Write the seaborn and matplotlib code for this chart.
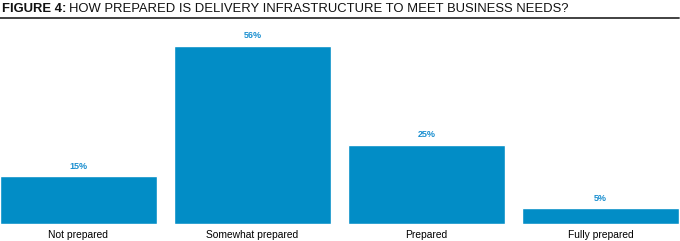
import matplotlib
matplotlib.use("Agg")
import matplotlib.pyplot as plt
import seaborn as sns
import pandas as pd
from matplotlib import font_manager

categories = ["Not prepared", "Somewhat prepared", "Prepared", "Fully prepared"]
values = [15, 56, 25, 5]
value_labels = ["15%", "56%", "25%", "5%"]

sns.set_style("white")
names = {f.name for f in font_manager.fontManager.ttflist}
fam = "Liberation Sans Narrow" if "Liberation Sans Narrow" in names else "Liberation Sans"
plt.rcParams["font.family"] = [fam, "DejaVu Sans"]

W, H = 680, 241
fig = plt.figure(figsize=(W / 100, H / 100), dpi=100)
ax = fig.add_axes([0, (H - 224) / H, 679 / W, (224 - 30) / H])

df = pd.DataFrame({"cat": categories, "val": values})
sns.barplot(data=df, x="cat", y="val", color="#028DC6", saturation=1,
            width=157 / 174, ax=ax)
ax.set_xlim(-0.5 * 157 / 174, 3 + 0.5 * 157 / 174)
ax.set_ylim(0, 194 / (178 / 56))
for bar, lab in zip(ax.patches, value_labels):
    ax.annotate(lab, (bar.get_x() + bar.get_width() / 2, bar.get_height()),
                xytext=(0, 4), textcoords="offset points", ha="center", va="bottom",
                fontsize=6.5, color="#1A8FD0", fontweight="bold")
ax.set_xlabel("")
ax.set_ylabel("")
ax.set_yticks([])
ax.tick_params(axis="x", length=0, pad=4.5, labelsize=7.4, labelcolor="#000000")
for s in ax.spines.values():
    s.set_visible(False)

ty = 1 - 8.5 / H
fs = 9.4
tmp = fig.text(2 / W, ty, "FIGURE 4:", fontsize=fs, fontweight="bold",
               va="center", ha="left", color="#111111")
fig.canvas.draw()
bb = tmp.get_window_extent(renderer=fig.canvas.get_renderer())
fig.text((bb.x1 + 3) / W, ty,
         "HOW PREPARED IS DELIVERY INFRASTRUCTURE TO MEET BUSINESS NEEDS?",
         fontsize=fs, va="center", ha="left", color="#111111")
fig.add_artist(plt.Line2D([0, 679 / W], [1 - 17.5 / H, 1 - 17.5 / H],
                          transform=fig.transFigure, color="#333333", lw=1.3))

fig.savefig("out.png", dpi=100)
